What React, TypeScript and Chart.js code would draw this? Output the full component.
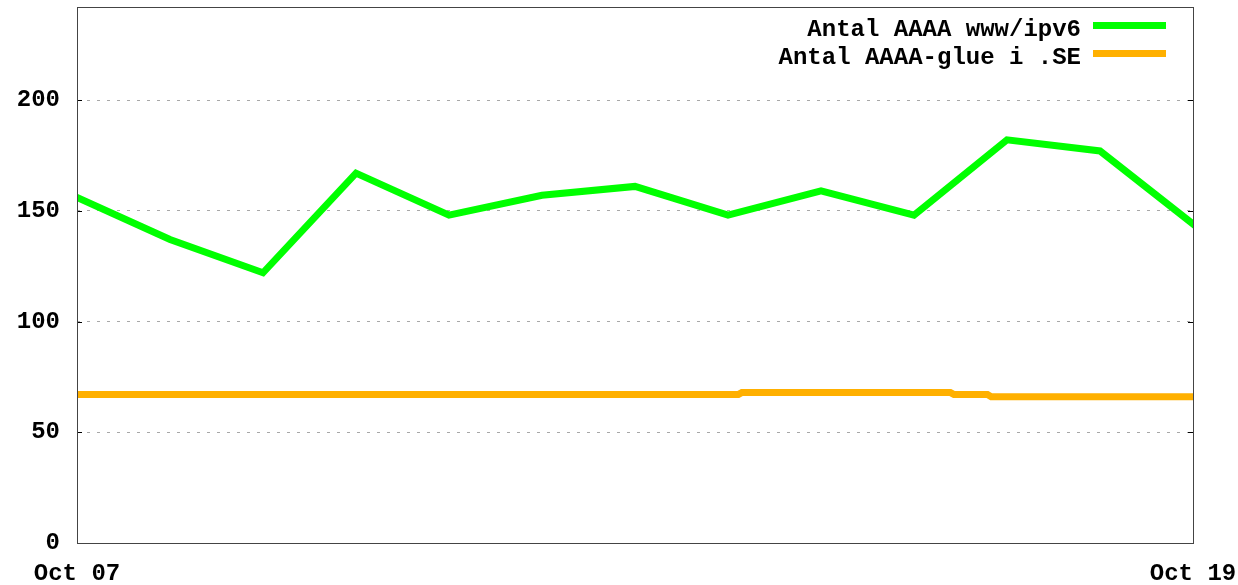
import React, { useEffect, useRef } from 'react';
import { Chart, registerables } from 'chart.js';

Chart.register(...registerables);

const xTickLabels = ['Oct 07', 'Oct 19'];
const xTickDays = [0, 12];
const yTickValues = [0, 50, 100, 150, 200];
const seriesLabels = ['Antal AAAA www/ipv6', 'Antal AAAA-glue i .SE'];
const seriesColors = ['#00ff00', '#ffb000'];

const wwwDays = [0, 1, 2, 3, 4, 5, 6, 7, 8, 9, 10, 11, 12];
const wwwValues = [156, 137, 122, 167, 148, 157, 161, 148, 159, 148, 182, 177, 144];

const glueDays = [0, 7.11, 7.15, 9.39, 9.43, 9.79, 9.83, 12];
const glueValues = [67, 67, 68, 68, 67, 67, 66, 66];

const FONT = '"Liberation Mono", "DejaVu Sans Mono", monospace';

const zeroPad = (scale: any) => {
  scale.paddingTop = 0;
  scale.paddingBottom = 0;
  scale.paddingLeft = 0;
  scale.paddingRight = 0;
};

const framePlugin = {
  id: 'frame',
  afterDraw(chart: any) {
    const { ctx, chartArea } = chart;
    const { left, right, top, bottom } = chartArea;
    const ys = chart.scales.y;
    ctx.save();
    // inward tick marks
    ctx.strokeStyle = '#000000';
    ctx.lineWidth = 1;
    yTickValues.forEach((v) => {
      const py = Math.round(ys.getPixelForValue(v)) + 0.5;
      ctx.beginPath();
      ctx.moveTo(left, py);
      ctx.lineTo(left + 5, py);
      ctx.moveTo(right, py);
      ctx.lineTo(right - 5, py);
      ctx.stroke();
    });
    // frame
    ctx.strokeStyle = '#444444';
    ctx.lineWidth = 1;
    ctx.strokeRect(Math.round(left) + 0.5, Math.round(top) + 0.5, Math.round(right - left), Math.round(bottom - top));
    // legend
    ctx.font = `bold 24px ${FONT}`;
    ctx.textAlign = 'right';
    ctx.textBaseline = 'alphabetic';
    const textY = [36, 63.5];
    const lineY = [25.5, 53.5];
    chart.data.datasets.forEach((ds: any, i: number) => {
      ctx.fillStyle = '#000000';
      ctx.fillText(ds.label, 1081, textY[i]);
      ctx.strokeStyle = ds.borderColor;
      ctx.lineWidth = 7;
      ctx.beginPath();
      ctx.moveTo(1093, lineY[i]);
      ctx.lineTo(1166, lineY[i]);
      ctx.stroke();
    });
    ctx.restore();
  },
};

export default function App() {
  const ref = useRef<HTMLCanvasElement>(null);

  useEffect(() => {
    const canvas = ref.current;
    if (!canvas) return;
    const chart = new Chart(canvas, {
      type: 'line',
      data: {
        datasets: [
          {
            label: seriesLabels[0],
            data: wwwDays.map((d, i) => ({ x: d, y: wwwValues[i] })),
            borderColor: seriesColors[0],
            backgroundColor: seriesColors[0],
            borderWidth: 7,
            pointRadius: 0,
            tension: 0,
            borderCapStyle: 'square',
            borderJoinStyle: 'miter',
          },
          {
            label: seriesLabels[1],
            data: glueDays.map((d, i) => ({ x: d, y: glueValues[i] })),
            borderColor: seriesColors[1],
            backgroundColor: seriesColors[1],
            borderWidth: 7,
            pointRadius: 0,
            tension: 0,
            borderCapStyle: 'square',
            borderJoinStyle: 'miter',
          },
        ],
      },
      options: {
        responsive: false,
        animation: false,
        layout: { padding: { left: 0, top: 7, right: 45, bottom: 0 } },
        plugins: {
          legend: { display: false },
          tooltip: { enabled: false },
        },
        scales: {
          x: {
            type: 'linear',
            min: 0,
            max: 12,
            afterBuildTicks: (scale: any) => {
              scale.ticks = xTickDays.map((v) => ({ value: v }));
            },
            afterFit: (scale: any) => {
              scale.height = 42;
              zeroPad(scale);
            },
            ticks: {
              autoSkip: false,
              maxRotation: 0,
              padding: 17,
              color: '#000000',
              font: { family: FONT, size: 24, weight: 'bold' },
              callback: (value: any) => {
                const idx = xTickDays.indexOf(Number(value));
                return idx >= 0 ? xTickLabels[idx] : '';
              },
            },
            grid: { display: false, drawTicks: false },
            border: { display: false },
          },
          y: {
            type: 'linear',
            min: 0,
            max: 242,
            afterBuildTicks: (scale: any) => {
              scale.ticks = yTickValues.map((v) => ({ value: v }));
            },
            afterFit: (scale: any) => {
              scale.width = 77;
              zeroPad(scale);
            },
            ticks: {
              padding: 17,
              color: '#000000',
              font: { family: FONT, size: 24, weight: 'bold' },
            },
            grid: {
              color: '#a8a8a8',
              lineWidth: 1,
              drawTicks: false,
            },
            border: { display: false, dash: [3, 7] },
          },
        },
      },
      plugins: [framePlugin],
    });
    return () => chart.destroy();
  }, []);

  return (
    <div style={{ position: 'fixed', left: 0, top: 0, width: 1238, height: 585, background: '#ffffff' }}>
      <canvas ref={ref} width={1238} height={585} style={{ display: 'block' }} />
    </div>
  );
}
